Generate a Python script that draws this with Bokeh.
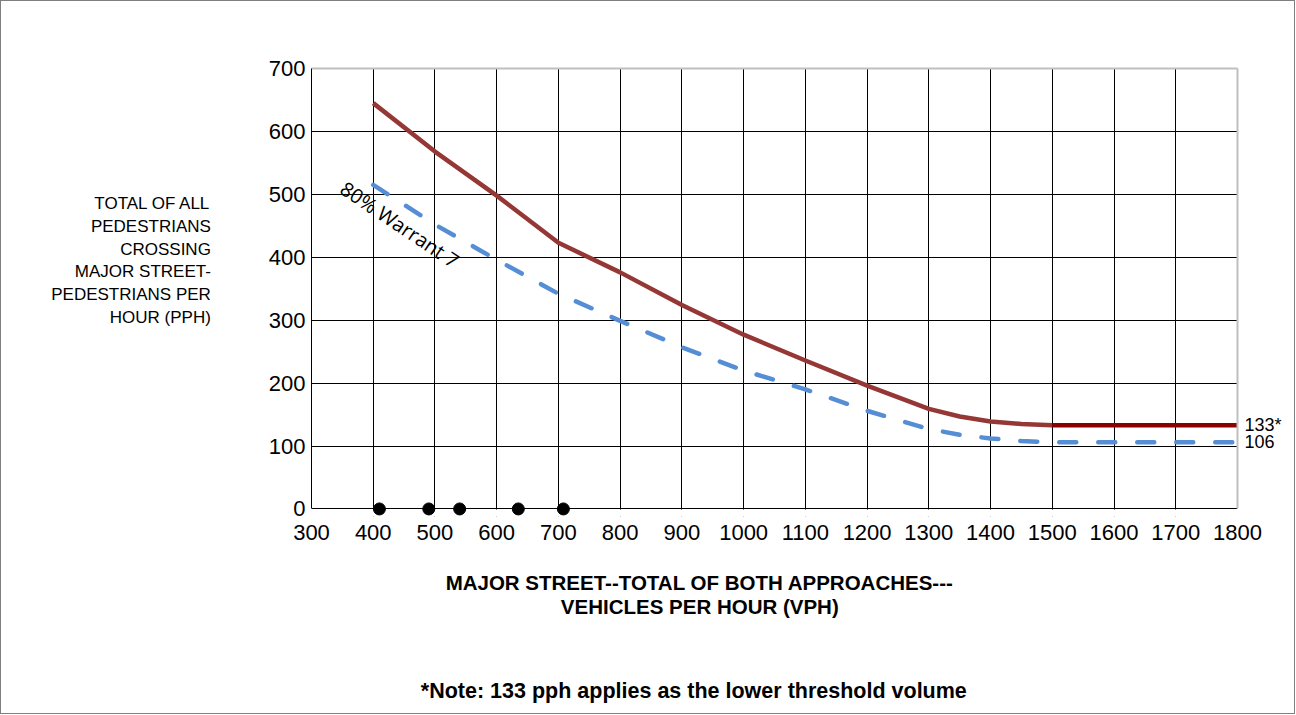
from bokeh.plotting import figure
from bokeh.models import Range1d, FixedTicker, Label, BoxAnnotation, LinearAxis
from bokeh.embed import file_html
from bokeh.resources import INLINE

# ---- data ----
x_ticks = [300, 400, 500, 600, 700, 800, 900, 1000, 1100, 1200, 1300, 1400, 1500, 1600, 1700, 1800]
y_ticks = [0, 100, 200, 300, 400, 500, 600, 700]

warrant_x = [400, 500, 600, 700, 800, 900, 1000, 1100, 1200, 1300, 1350, 1400, 1450, 1500]
warrant_y = [645, 568, 498, 423, 376, 324, 277, 236, 196, 159, 147, 139, 135, 133]

floor_x = [1500, 1800]
floor_y = [133, 133]

pct80_x = [400, 500, 600, 700, 800, 900, 1000, 1100, 1200, 1300, 1350, 1400, 1450, 1500, 1800]
pct80_y = [515, 452, 396, 342, 299, 257, 220, 190, 156, 127, 118, 112, 108, 106, 106]

obs_x = [410, 490, 540, 635, 708]
obs_y = [0, 0, 0, 0, 0]

thr_main = 133
thr_80 = 106

FONT = "Liberation Sans"
W, H = 1295, 714

p = figure(width=W, height=H, output_backend="svg", toolbar_location=None,
           x_range=Range1d(300, 1800), y_range=Range1d(-12, 700),
           min_border_left=310, min_border_right=59, min_border_top=67, min_border_bottom=199,
           styles={"border": "1px solid #7f7f7f"})
p.outline_line_color = None
p.background_fill_color = "white"
p.border_fill_color = "white"

# axes
p.xaxis.ticker = FixedTicker(ticks=x_ticks)
p.yaxis.ticker = FixedTicker(ticks=y_ticks)
p.yaxis.bounds = (0, 700)
p.xaxis.axis_line_color = None
p.yaxis.axis_line_color = "black"
for ax in (p.xaxis[0], p.yaxis[0]):
    ax.major_tick_in = 0
    ax.major_tick_out = 0
    ax.minor_tick_line_color = None
    ax.major_label_text_font = FONT
    ax.major_label_text_font_size = "22px"
    ax.major_label_text_color = "black"
p.xaxis.major_label_standoff = 8
p.yaxis.major_label_standoff = 6

# right frame line (gray) carrying the threshold labels
right_ax = LinearAxis(bounds=(0, 700), ticker=FixedTicker(ticks=[thr_80, thr_main]),
                      major_label_overrides={thr_main: f"{thr_main}*", thr_80: f"{thr_80}"},
                      axis_line_color="#bfbfbf", axis_line_width=2,
                      major_tick_line_color=None, minor_tick_line_color=None,
                      major_label_standoff=1, major_label_text_font=FONT,
                      major_label_text_font_size="18px", major_label_text_color="black")
top_ax = LinearAxis(ticker=FixedTicker(ticks=[]), axis_line_color="#bfbfbf",
                    axis_line_width=2, major_tick_line_color=None, minor_tick_line_color=None,
                    major_label_text_font_size="0px")
p.add_layout(right_ax, "right")
p.add_layout(top_ax, "above")

# grid
p.xgrid.ticker = FixedTicker(ticks=x_ticks)
p.ygrid.ticker = FixedTicker(ticks=y_ticks)
p.grid.grid_line_color = "black"
p.grid.grid_line_width = 1
p.grid.grid_line_alpha = 1

# hide vertical grid below zero
mask = BoxAnnotation(top=-1, fill_color="white", fill_alpha=1, line_color=None, level="underlay")
p.add_layout(mask)

# series
p.line(pct80_x, pct80_y, line_color="#558ED5", line_width=4.5, line_dash="17 22", line_cap="round")
p.line(warrant_x, warrant_y, line_color="#953735", line_width=4.5, line_join="round")
p.line(floor_x, floor_y, line_color="#8C0000", line_width=4.5)
p.scatter(obs_x, obs_y, size=12, marker="circle", fill_color="black", line_color="black")

p.add_layout(Label(x=443, y=452, text="80% Warrant 7", angle=-0.59, text_align="center",
                   text_baseline="middle", text_font="Open Sans", text_font_size="20px",
                   text_color="black"))

p.add_layout(Label(x=137, y=395,
                   text="TOTAL OF ALL\nPEDESTRIANS\nCROSSING\nMAJOR STREET-\nPEDESTRIANS PER\nHOUR (PPH)",
                   text_align="right", text_baseline="middle", text_line_height=1.2,
                   text_font=FONT, text_font_size="17px", text_color="black"), "left")

p.add_layout(Label(x=929, y=-136,
                   text="MAJOR STREET--TOTAL OF BOTH APPROACHES---\nVEHICLES PER HOUR (VPH)",
                   text_align="center", text_baseline="middle", text_line_height=1.02,
                   text_font=FONT, text_font_size="20.5px", text_font_style="bold",
                   text_color="black"), "below")

p.add_layout(Label(x=929, y=-289,
                   text="*Note:  133  pph applies as the lower threshold volume",
                   text_align="center", text_baseline="middle",
                   text_font=FONT, text_font_size="21.5px", text_font_style="bold",
                   text_color="black"), "below")

open("out.html", "w").write(file_html(p, INLINE))
